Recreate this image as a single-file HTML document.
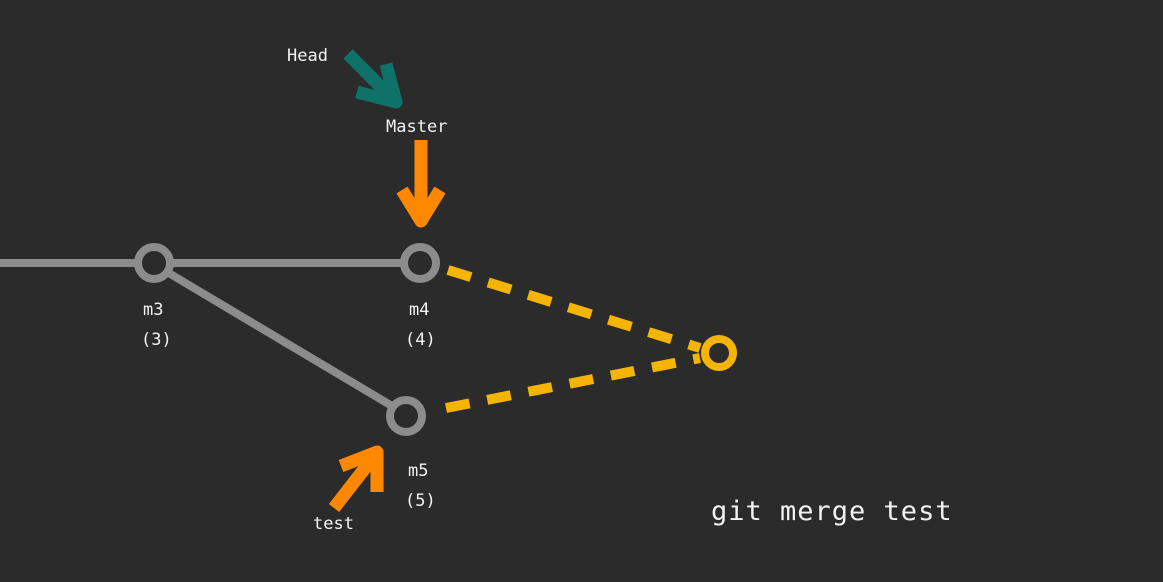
<!DOCTYPE html>
<html><head><style>
html,body{margin:0;padding:0;background:#2b2b2b;}
svg{display:block;}
text{font-family:"DejaVu Sans Mono","Liberation Mono",monospace;fill:#f2f2f2;}
</style></head><body>
<svg width="1163" height="582" viewBox="0 0 1163 582" xmlns="http://www.w3.org/2000/svg">
<rect width="1163" height="582" fill="#2b2b2b"/>
<g stroke="#8c8c8c" stroke-width="8" fill="none">
<line x1="0" y1="263" x2="139" y2="263"/>
<line x1="169" y1="263" x2="405" y2="263"/>
<line x1="167" y1="272" x2="392" y2="406"/>
<circle cx="154" cy="263" r="16"/>
<circle cx="420" cy="263" r="16"/>
<circle cx="406" cy="416" r="16"/>
</g>
<g stroke="#f5b400" stroke-width="10" fill="none" stroke-dasharray="24 18">
<line x1="448" y1="270" x2="700" y2="348"/>
<line x1="446" y1="408" x2="700" y2="358"/>
</g>
<circle cx="719" cy="353" r="14" stroke="#f5b400" stroke-width="8" fill="none"/>
<g stroke="#ff8800" stroke-width="13" fill="none" stroke-linejoin="round" stroke-linecap="butt">
<line x1="421" y1="140" x2="421" y2="220"/>
<polyline points="402,190 421,221 440,190"/>
<line x1="334" y1="508" x2="376" y2="454"/>
<polyline points="341,466 377,452 377,492"/>
</g>
<g stroke="#0f7268" stroke-width="13" fill="none" stroke-linejoin="round">
<line x1="348" y1="54" x2="394" y2="100"/>
<polyline points="357,92 396,102 386,64"/>
</g>
<text x="287" y="61" font-size="17">Head</text>
<text x="386" y="132" font-size="17">Master</text>
<text x="143" y="315" font-size="17">m3</text>
<text x="141" y="345" font-size="17">(3)</text>
<text x="409" y="315" font-size="17">m4</text>
<text x="405" y="345" font-size="17">(4)</text>
<text x="408" y="476" font-size="17">m5</text>
<text x="405" y="506" font-size="17">(5)</text>
<text x="313" y="529" font-size="17">test</text>
<text x="711" y="520" font-size="27" letter-spacing="1">git merge test</text>
</svg>
</body></html>
